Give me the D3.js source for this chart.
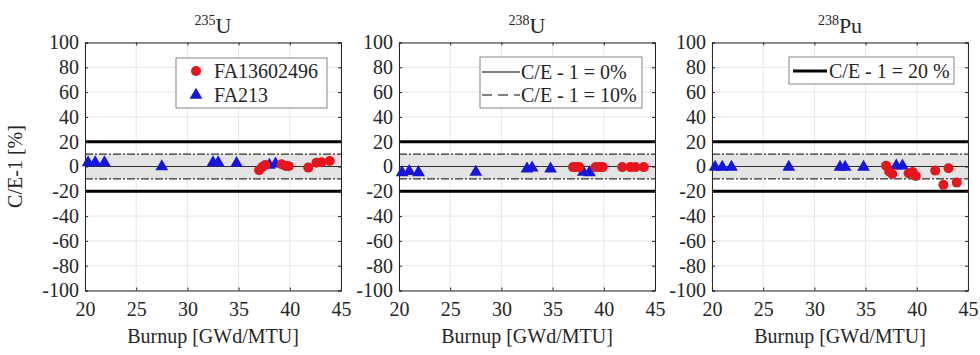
<!DOCTYPE html>
<html>
<head>
<meta charset="utf-8">
<script src="https://cdn.jsdelivr.net/npm/d3@7"></script>
<style>
  body { margin: 0; background: #fff; }
  text { font-family: "Liberation Serif", "Times New Roman", serif; fill: #262626; }
</style>
</head>
<body>
<div class="canvas"></div>
<script>
// burnup values (GWd/MTU) for the two assemblies
const burnupFA136 = [37.0, 37.3, 37.6, 39.2, 39.6, 39.9, 41.8, 42.6, 43.1, 43.9];
const burnupFA213 = [20.3, 21.0, 21.9, 27.5, 32.5, 33.0, 34.8, 38.0, 38.6];

// C/E-1 [%] per nuclide
const u235FA136 = [-3.0, -0.5, 1.2, 1.8, 0.5, 0.3, -0.9, 3.0, 3.4, 4.5];
const u235FA213 = [3.5, 3.5, 3.5, 0.3, 3.5, 3.5, 3.0, 1.5, 2.5];
const u238FA136 = [-0.5, -0.5, -0.5, -0.5, -0.5, -0.5, -0.5, -0.5, -0.5, -0.5];
const u238FA213 = [-4.6, -3.5, -4.4, -4.1, -1.4, -0.6, -1.4, -4.1, -4.6];
const pu238FA136 = [0.7, -4.1, -6.0, -5.5, -4.5, -7.6, -3.3, -14.8, -1.4, -13.0];
const pu238FA213 = [0, 0, 0, 0, 0, 0, 0, 1.0, 1.0];

const massNumbers = ['235', '238', '238'];
const elements = ['U', 'U', 'Pu'];
const seriesNames = ['FA13602496', 'FA213'];
const xTicks = [20, 25, 30, 35, 40, 45];
const yTicks = [-100, -80, -60, -40, -20, 0, 20, 40, 60, 80, 100];

const panels = [
  { a: u235FA136, b: u235FA213 },
  { a: u238FA136, b: u238FA213 },
  { a: pu238FA136, b: pu238FA213 }
];

const dims = { width: 256, height: 248, top: 42.5 };
const lefts = [85, 399, 712];
const red = '#e8161c';
const blue = '#1515dd';

const svg = d3.select('.canvas')
  .append('svg')
  .attr('width', 980)
  .attr('height', 355);

const x = d3.scaleLinear().domain([20, 45]).range([0, dims.width]);
const y = d3.scaleLinear().domain([-100, 100]).range([dims.height, 0]);

const triangle = d3.symbol().type(d3.symbolTriangle).size(70);

panels.forEach((p, i) => {
  const g = svg.append('g')
    .attr('transform', `translate(${lefts[i]}, ${dims.top})`);

  // grid
  g.selectAll('.gx').data(xTicks).enter().append('line')
    .attr('x1', d => x(d)).attr('x2', d => x(d))
    .attr('y1', 0).attr('y2', dims.height)
    .attr('stroke', '#e6e6e6');
  g.selectAll('.gy').data(yTicks).enter().append('line')
    .attr('x1', 0).attr('x2', dims.width)
    .attr('y1', d => y(d)).attr('y2', d => y(d))
    .attr('stroke', '#e6e6e6');

  // +-10% band
  g.append('rect')
    .attr('x', 0).attr('width', dims.width)
    .attr('y', y(10)).attr('height', y(-10) - y(10))
    .attr('fill', '#e4e4e4');

  [10, -10].forEach(v => {
    g.append('line')
      .attr('x1', 0).attr('x2', dims.width)
      .attr('y1', y(v)).attr('y2', y(v))
      .attr('stroke', '#000').attr('stroke-width', 1)
      .attr('stroke-dasharray', '8,2,2,2');
  });
  g.append('line')
    .attr('x1', 0).attr('x2', dims.width)
    .attr('y1', y(0)).attr('y2', y(0))
    .attr('stroke', '#000').attr('stroke-width', 0.8);
  [20, -20].forEach(v => {
    g.append('line')
      .attr('x1', 0).attr('x2', dims.width)
      .attr('y1', y(v)).attr('y2', y(v))
      .attr('stroke', '#000').attr('stroke-width', 3);
  });

  // axes (ticks pointing inward, box on)
  const fmt = d => String(d);
  const xAxis = d3.axisBottom(x).tickValues(xTicks).tickSize(-3).tickPadding(11).tickFormat(fmt);
  const yAxis = d3.axisLeft(y).tickValues(yTicks).tickSize(-3).tickPadding(6).tickFormat(fmt);

  const gx = g.append('g').attr('transform', `translate(0, ${dims.height})`).call(xAxis);
  const gy = g.append('g').call(yAxis);
  g.append('g').call(d3.axisTop(x).tickValues(xTicks).tickSize(-3).tickFormat(''));
  g.append('g').attr('transform', `translate(${dims.width}, 0)`)
    .call(d3.axisRight(y).tickValues(yTicks).tickSize(-3).tickFormat(''));

  g.selectAll('.domain').attr('stroke', '#262626');
  g.selectAll('.tick line').attr('stroke', '#262626');
  [gx, gy].forEach(a => a.selectAll('text')
    .style('font-size', '20px')
    .style('font-family', '"Liberation Serif", serif')
    .attr('fill', '#262626'));
  gx.selectAll('text').attr('dy', '0.71em');

  // x label
  g.append('text')
    .attr('x', dims.width / 2).attr('y', 300)
    .attr('text-anchor', 'middle')
    .style('font-size', '20px')
    .text('Burnup [GWd/MTU]');

  // title with superscript mass number
  const t = g.append('text')
    .attr('x', dims.width / 2).attr('y', -10)
    .attr('text-anchor', 'middle')
    .style('font-size', '22px');
  t.append('tspan').attr('dy', '-8').style('font-size', '14px').text(massNumbers[i]);
  t.append('tspan').attr('dy', '8').text(elements[i]);

  // data points
  g.selectAll('.tri').data(p.b).enter().append('path')
    .attr('d', triangle)
    .attr('transform', (d, j) => `translate(${x(burnupFA213[j])}, ${y(d) + 0.5})`)
    .attr('fill', blue);
  g.selectAll('.dot').data(p.a).enter().append('circle')
    .attr('cx', (d, j) => x(burnupFA136[j]))
    .attr('cy', d => y(d))
    .attr('r', 5)
    .attr('fill', red);
});

// y label
svg.append('text')
  .attr('transform', `translate(22, ${dims.top + y(0)}) rotate(-90)`)
  .attr('text-anchor', 'middle')
  .style('font-size', '20px')
  .text('C/E-1 [%]');

// legend 1 - markers
const leg1 = svg.append('g').attr('transform', 'translate(176, 58)');
leg1.append('rect').attr('width', 151).attr('height', 50)
  .attr('fill', '#fff').attr('stroke', '#666').attr('stroke-width', 0.8);
leg1.append('circle').attr('cx', 20).attr('cy', 13).attr('r', 5).attr('fill', red);
leg1.append('path').attr('d', triangle).attr('transform', 'translate(20, 37)').attr('fill', blue);
seriesNames.forEach((n, j) => {
  leg1.append('text').attr('x', 38).attr('y', 13 + j * 24).attr('dy', '0.35em')
    .style('font-size', '20px').text(n);
});

// legend 2 - reference lines
const leg2 = svg.append('g').attr('transform', 'translate(480, 57)');
leg2.append('rect').attr('width', 162).attr('height', 51)
  .attr('fill', '#fff').attr('stroke', '#666').attr('stroke-width', 0.8);
leg2.append('line').attr('x1', 2).attr('x2', 40).attr('y1', 15).attr('y2', 15)
  .attr('stroke', '#000').attr('stroke-width', 1);
leg2.append('line').attr('x1', 2).attr('x2', 40).attr('y1', 38).attr('y2', 38)
  .attr('stroke', '#000').attr('stroke-width', 1).attr('stroke-dasharray', '10,6');
['C/E - 1 = 0%', 'C/E - 1 = 10%'].forEach((n, j) => {
  leg2.append('text').attr('x', 41).attr('y', 15 + j * 23).attr('dy', '0.35em')
    .style('font-size', '20px').text(n);
});

// legend 3 - 20% line
const leg3 = svg.append('g').attr('transform', 'translate(789, 57)');
leg3.append('rect').attr('width', 165).attr('height', 27)
  .attr('fill', '#fff').attr('stroke', '#666').attr('stroke-width', 0.8);
leg3.append('line').attr('x1', 4).attr('x2', 38).attr('y1', 14).attr('y2', 14)
  .attr('stroke', '#000').attr('stroke-width', 3);
leg3.append('text').attr('x', 40).attr('y', 14).attr('dy', '0.35em')
  .style('font-size', '20px').text('C/E - 1 = 20 %');
</script>
</body>
</html>
